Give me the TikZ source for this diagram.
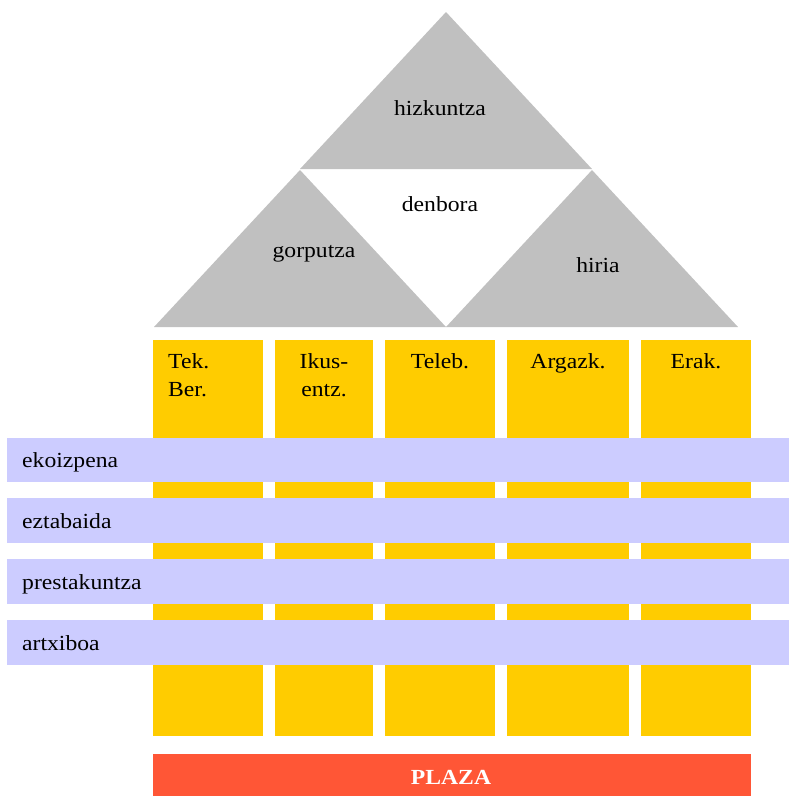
\documentclass[tikz,border=0pt]{standalone}
\usepackage{fontspec}
\setmainfont{Liberation Serif}[FakeStretch=1.1]
\definecolor{trigray}{HTML}{C0C0C0}
\definecolor{colyel}{HTML}{FFCC00}
\definecolor{barlav}{HTML}{CCCCFF}
\definecolor{plazared}{HTML}{FF5636}
\begin{document}
\begin{tikzpicture}[x=1pt,y=-1pt,
  lbl/.style={font=\fontsize{21.5}{28}\selectfont, inner sep=0pt, text=black},
  tri/.style={fill=trigray},
  col/.style={fill=colyel},
  bar/.style={fill=barlav}]
\useasboundingbox (0,0) rectangle (789,796);
% triangles
\fill[tri] (446,12) -- (592,169) -- (300,169) -- cycle;
\fill[tri] (300,170) -- (446,327) -- (154,327) -- cycle;
\fill[tri] (592,170) -- (738,327) -- (446,327) -- cycle;
\node[lbl, anchor=base] (hiz) at (440,115) {hizkuntza};
\node[lbl, anchor=base] (den) at (440,211) {denbora};
\node[lbl, anchor=base] (gor) at (314,257) {gorputza};
\node[lbl, anchor=base] (hir) at (598,272) {hiria};
% columns
\fill[col] (153,340) rectangle (263,736);
\fill[col] (275,340) rectangle (373,736);
\fill[col] (385,340) rectangle (495,736);
\fill[col] (507,340) rectangle (629,736);
\fill[col] (641,340) rectangle (751,736);
\node[lbl, anchor=base west, align=left] (c1) at (168,396) {Tek.\\Ber.};
\node[lbl, anchor=base, align=center] (c2) at (324,396) {Ikus-\\entz.};
\node[lbl, anchor=base] (c3) at (440,368) {Teleb.};
\node[lbl, anchor=base] (c4) at (568,368) {Argazk.};
\node[lbl, anchor=base] (c5) at (696,368) {Erak.};
% bars
\fill[bar] (7,438) rectangle (789,482);
\fill[bar] (7,498) rectangle (789,543);
\fill[bar] (7,559) rectangle (789,604);
\fill[bar] (7,620) rectangle (789,665);
\node[lbl, anchor=base west] (b1) at (22,467) {ekoizpena};
\node[lbl, anchor=base west] (b2) at (22,528) {eztabaida};
\node[lbl, anchor=base west] (b3) at (22,589) {prestakuntza};
\node[lbl, anchor=base west] (b4) at (22,650) {artxiboa};
% plaza
\fill[fill=plazared] (153,754) rectangle (751,796);
\node[lbl, anchor=base, text=white, font=\fontsize{21.5}{28}\selectfont\bfseries] (plaza) at (451,784) {PLAZA};
\end{tikzpicture}
\end{document}
